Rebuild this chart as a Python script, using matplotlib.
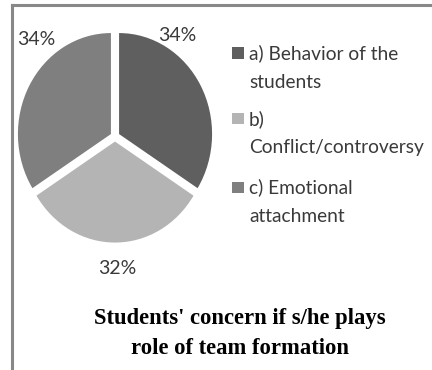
import matplotlib.pyplot as plt
from matplotlib.patches import Rectangle

# Datos del gráfico
categorias = ['a) Behavior of the\nstudents', 'b)\nConflict/controversy', 'c) Emotional\nattachment']
porcentajes = [34, 32, 34]
colores = ['#5f5f5f', '#b4b4b4', '#7f7f7f']
titulo = "Students' concern if s/he plays\nrole of team formation"

W, H = 432, 370
fig = plt.figure(figsize=(W / 100, H / 100), dpi=100)
fig.patch.set_facecolor('white')

# Marco del área del gráfico (solo borde superior e izquierdo visibles)
fig.add_artist(plt.Line2D([11.5 / W, 11.5 / W], [0, (H - 4.5) / H], color='#888888', lw=2.2))
fig.add_artist(plt.Line2D([11.5 / W, 1], [(H - 4.5) / H, (H - 4.5) / H], color='#888888', lw=2.2))

# Pastel con porciones separadas (ligeramente ovalado)
cx, cy = 115, 136.5
rx, ry = 93, 101
ax = fig.add_axes([(cx - 1.1 * rx) / W, (H - cy - 1.1 * ry) / H, 2.2 * rx / W, 2.2 * ry / H])
wedges, textos, autotextos = ax.pie(
    porcentajes, colors=colores, startangle=90, counterclock=False,
    radius=1.0, explode=[0.05] * 3, autopct='%.0f%%',
    wedgeprops=dict(linewidth=0),
    textprops=dict(fontfamily='Lato', fontsize=14, color='#3a3a3a'))
ax.set_xlim(-1.1, 1.1)
ax.set_ylim(-1.1, 1.1)
ax.set_aspect('auto')

# Etiquetas de porcentaje fuera del pastel
pos_etiquetas = [(0.67, 1.00), (0.02, -1.31), (-0.85, 0.96)]
for t, p in zip(autotextos, pos_etiquetas):
    t.set_position(p)
    t.set_ha('center')
    t.set_va('center')

# Leyenda manual; y = línea base de la última línea de cada entrada
base_leyenda = [88, 153.5, 222]
for cat, col, y in zip(categorias, colores, base_leyenda):
    y0 = y - 27.5  # línea base de la primera línea
    fig.patches.append(Rectangle((232 / W, (H - y0 + 2) / H), 12 / W, 11 / H,
                                 transform=fig.transFigure, facecolor=col, edgecolor='none'))
    fig.text(249 / W, (H - y) / H, cat, ha='left', va='baseline', fontfamily='Lato',
             fontsize=13.8, color='#3a3a3a', linespacing=1.82)

# Título
fig.text(240 / W, (H - 354) / H, titulo, ha='center', va='baseline',
         fontfamily='Liberation Serif', fontweight='bold', fontsize=16.3,
         color='black', linespacing=1.58)

plt.savefig('out.png', dpi=100)
